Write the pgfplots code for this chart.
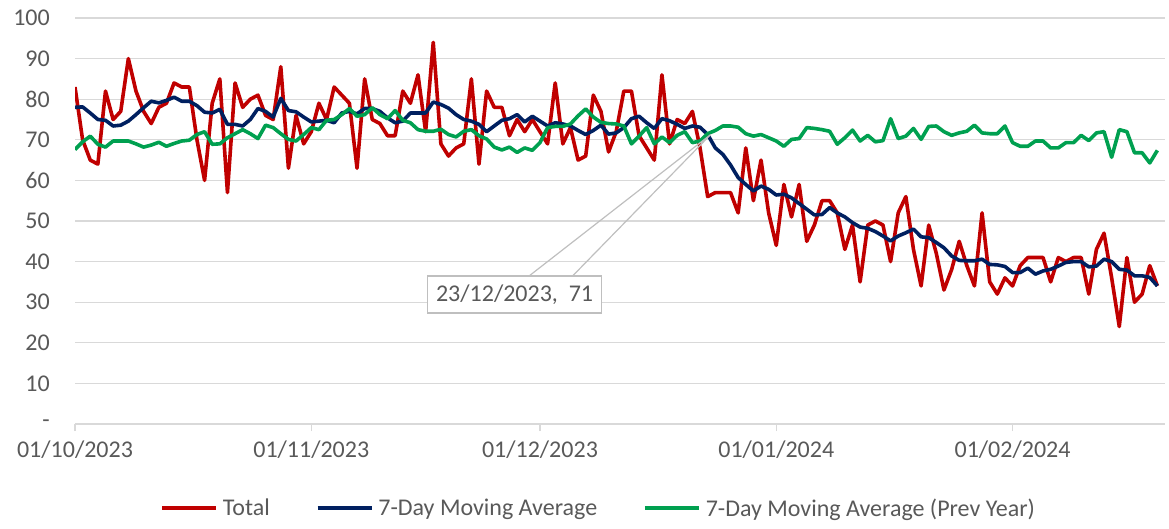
\documentclass[border=0pt]{standalone}
\usepackage{pgfplots}
\pgfplotsset{compat=1.18}
\usepackage{pgfplotstable}
\usepackage{fontspec}
\setmainfont{Carlito}
\definecolor{cRed}{HTML}{C00000}
\definecolor{cBlue}{HTML}{002060}
\definecolor{cGreen}{HTML}{00A050}
\definecolor{cGrid}{HTML}{D9D9D9}
\definecolor{cText}{HTML}{595959}
\definecolor{cCall}{HTML}{BFBFBF}

\pgfplotstableread{
d total ma prev
0 83 78 67.6
1 70 78.1 69.5
2 65 76.6 70.9
3 64 75 68.9
4 82 74.8 68.2
5 75 73.4 69.7
6 77 73.6 69.7
7 90 74.6 69.7
8 82 76.2 69
9 77 77.9 68.2
10 74 79.5 68.7
11 78 79.1 69.4
12 79 79.7 68.4
13 84 80.5 69.1
14 83 79.5 69.7
15 83 79.5 69.9
16 70 78.4 71.3
17 60 76.8 72
18 79 76.6 68.9
19 85 77.5 69
20 57 73.8 70.5
21 84 73.8 71.5
22 78 73.4 72.5
23 80 75 71.5
24 81 77.7 70.3
25 76 77 73.6
26 75 75.6 73
27 88 80.2 71.5
28 63 77.2 70.1
29 76 76.9 69.7
30 69 75.6 71.3
31 72 74.4 73
32 79 74.6 72.5
33 75 74.8 74.8
34 83 74.2 75
35 81 76.6 76.2
36 79 77 77.7
37 63 76.4 75.8
38 85 77.7 76.2
39 75 77.7 77.9
40 74 77 76.2
41 71 75.4 75.2
42 71 74.2 77.2
43 82 74.6 74.8
44 79 76.6 74.2
45 86 76.6 72.5
46 72 76.6 72.1
47 94 79.3 72.1
48 69 78.7 72.6
49 66 77.8 71.3
50 68 76.2 70.7
51 69 75 72.1
52 85 74.6 72.5
53 64 73.8 71
54 82 72 70.2
55 78 73.4 68.2
56 78 74.8 67.5
57 71 75.2 68.2
58 75 76.2 66.9
59 72 74.4 68
60 75 75.8 67.4
61 72 74.6 69.3
62 69 73.4 73
63 84 74.2 73.3
64 69 73.9 73.3
65 73 73.4 73.9
66 65 72.3 75.9
67 66 71.3 77.6
68 81 72.3 75.6
69 77 73.6 74.3
70 67 71.4 74
71 72 71.7 73.9
72 82 73 73.4
73 82 75.2 69
74 71 75.8 70.9
75 68 74.2 73
76 65 72.8 69
77 86 75.2 70.7
78 69 74.7 69.3
79 75 73.8 71.1
80 74 72.8 72
81 77 73.4 69.3
82 68 73.1 69.7
83 56 71.3 71.5
84 57 68 72.3
85 57 66.4 73.4
86 57 63.8 73.4
87 52 60.7 73.1
88 68 59 71.5
89 55 57.4 70.9
90 65 58.6 71.3
91 52 57.8 70.5
92 44 56.4 69.7
93 59 56.6 68.4
94 51 55.7 70.1
95 59 54.3 70.3
96 45 52.9 73
97 49 51.5 72.8
98 55 51.6 72.5
99 55 53.3 72.1
100 52 52 68.9
101 43 51 70.5
102 49 49.6 72.4
103 35 48.5 69.7
104 49 48.2 71.1
105 50 47.4 69.5
106 49 46.3 69.8
107 40 45.1 75.2
108 52 46.3 70.3
109 56 47.1 70.9
110 43 48 72.8
111 34 46.1 70.1
112 49 45.9 73.3
113 42 44.7 73.4
114 33 43.4 72
115 38 41.4 71.1
116 45 40.3 71.7
117 39 40.2 72.1
118 34 40.2 73.6
119 52 40.6 71.7
120 35 39.3 71.5
121 32 39.2 71.5
122 36 38.8 73.4
123 34 37.3 69.3
124 39 37.3 68.4
125 41 38.4 68.4
126 41 36.9 69.7
127 41 37.7 69.7
128 35 38.1 68
129 41 38.9 68
130 40 39.8 69.3
131 41 40 69.3
132 41 40 71.1
133 32 38.7 69.8
134 43 38.9 71.7
135 47 40.6 72
136 36 40 65.7
137 24 38.1 72.5
138 41 37.9 72
139 30 36.5 66.8
140 32 36.5 66.8
141 39 36.1 64.3
142 34 34 67.4
}\datatable

\newcommand{\bigf}{\fontsize{24pt}{28pt}\selectfont}

\begin{document}
\begin{tikzpicture}[x=1pt,y=1pt]
\useasboundingbox (0,0) rectangle (1169,528);
\begin{axis}[
  at={(75pt,104pt)}, anchor=south west,
  scale only axis, width=1090pt, height=406pt,
  xmin=0, xmax=143, ymin=0, ymax=100,
  axis line style={draw=none},
  ymajorgrids, grid style={cGrid, line width=1.3pt},
  ytick={0,10,...,100},
  yticklabels={{-\hspace{19pt}},10,20,30,40,50,60,70,80,90,100},
  ytick style={draw=none},
  xtick={0,31,61,92,123},
  xtick pos=bottom,
  xticklabels={01/10/2023,01/11/2023,01/12/2023,01/01/2024,01/02/2024},
  xtick style={draw=cGrid, line width=1.3pt},
  tick align=outside, major tick length=7pt,
  tick label style={font=\bigf, text=cText},
  yticklabel style={inner sep=0pt, xshift=-18pt},
  xticklabel style={inner sep=0pt, yshift=-10pt},
  legend style={at={(0.078,-0.207)}, anchor=west, draw=none, fill=none,
    font=\bigf, text=cText, inner sep=0pt, nodes={inner sep=0pt},
    /tikz/every odd column/.append style={column sep=5pt},
    /tikz/every even column/.append style={column sep=46pt}},
  legend columns=3,
  legend image code/.code={\draw[#1, line width=3.6pt] (0pt,0pt) -- (54pt,0pt);},
]
\addplot[cRed, line width=3.6pt, line join=round, no marks] table[x=d, y=total] {\datatable};
\addlegendentry{Total}
\addplot[cBlue, line width=3.6pt, line join=round, no marks] table[x=d, y=ma] {\datatable};
\addlegendentry{7-Day Moving Average}
\addplot[cGreen, line width=3.6pt, line join=round, no marks] table[x=d, y=prev] {\datatable};
\addlegendentry{7-Day Moving Average (Prev Year)}
\draw[cCall, line width=1.2pt] (axis cs:59.6,36.5) -- (axis cs:83.4,71.3) -- (axis cs:65.3,36.5);
\node[draw=cCall, line width=1.2pt, fill=white, minimum width=174pt, minimum height=37pt,
  inner sep=0pt, font=\bigf, text=cText] at (axis cs:57.67,31.9) {23/12/2023,\ \ 71};
\end{axis}
\end{tikzpicture}
\end{document}
